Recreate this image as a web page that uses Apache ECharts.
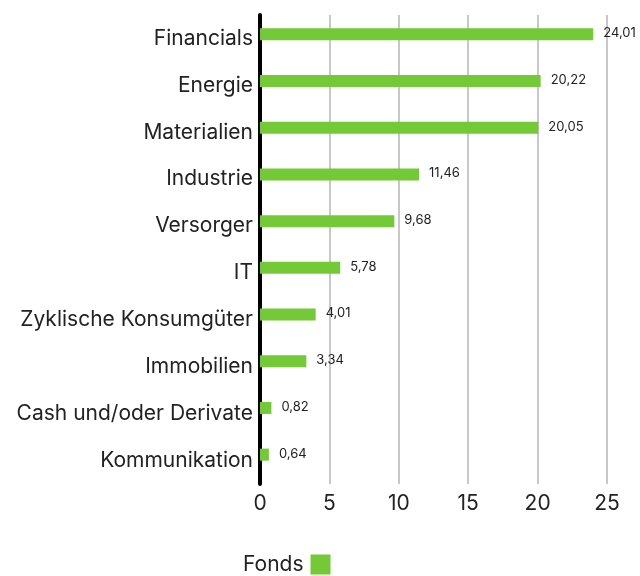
<!DOCTYPE html>
<html>
<head>
<meta charset="utf-8">
<script src="https://cdn.jsdelivr.net/npm/echarts@6/dist/echarts.min.js"></script>
<style>
  html, body { margin: 0; padding: 0; background: #fff; }
  #chart { width: 640px; height: 576px; }
</style>
</head>
<body>
<div id="chart"></div>
<script>
// Sector weights of the fund, in percent
const categories = [
  'Financials', 'Energie', 'Materialien', 'Industrie', 'Versorger',
  'IT', 'Zyklische Konsumgüter', 'Immobilien', 'Cash und/oder Derivate', 'Kommunikation'
];
const fondsValues = [24.01, 20.22, 20.05, 11.46, 9.68, 5.78, 4.01, 3.34, 0.82, 0.64];
const xTicks = [0, 5, 10, 15, 20, 25];
const seriesName = 'Fonds';

const FONT = 'Inter, "Noto Sans", sans-serif';
const GREEN = '#74C936';

const chart = echarts.init(document.getElementById('chart'), null, { renderer: 'canvas' });

const option = {
  animation: false,
  backgroundColor: '#ffffff',
  legend: {
    data: [seriesName],
    left: 238,
    top: 549,
    align: 'right',
    icon: 'rect',
    itemWidth: 20,
    itemHeight: 20,
    textStyle: { fontFamily: FONT, fontSize: 21, color: '#222', padding: [0, 2, 0, 0] }
  },
  grid: [
    // frame: category labels, axis line and vertical gridlines
    { left: 260, right: 33, top: 15, height: 469 },
    // bars, sitting slightly above each category label
    { left: 260, right: 33, top: 11, height: 467 }
  ],
  xAxis: [
    {
      gridIndex: 0,
      type: 'value',
      min: xTicks[0],
      max: xTicks[xTicks.length - 1],
      interval: xTicks[1] - xTicks[0],
      axisLine: { show: false },
      axisTick: { show: false },
      splitLine: { show: true, lineStyle: { color: '#c8c8c8', width: 2 } },
      axisLabel: { fontFamily: FONT, fontSize: 21, color: '#222', margin: 9 }
    },
    {
      gridIndex: 1,
      type: 'value',
      min: xTicks[0],
      max: xTicks[xTicks.length - 1],
      show: false
    }
  ],
  yAxis: [
    {
      gridIndex: 0,
      type: 'category',
      inverse: true,
      data: categories,
      axisLine: { show: true, lineStyle: { color: '#000', width: 4 } },
      axisTick: { show: false },
      axisLabel: { fontFamily: FONT, fontSize: 21, color: '#222', margin: 7 }
    },
    {
      gridIndex: 1,
      type: 'category',
      inverse: true,
      data: categories,
      show: false
    }
  ],
  series: [
    {
      name: seriesName,
      type: 'bar',
      xAxisIndex: 1,
      yAxisIndex: 1,
      data: fondsValues,
      barWidth: 12,
      itemStyle: { color: GREEN },
      z: 1,
      label: {
        show: true,
        position: 'right',
        distance: 10,
        offset: [0, -1],
        fontFamily: FONT,
        fontSize: 13,
        color: '#222',
        formatter: p => p.value.toFixed(2).replace('.', ',')
      }
    }
  ]
};

chart.setOption(option);
</script>
</body>
</html>
